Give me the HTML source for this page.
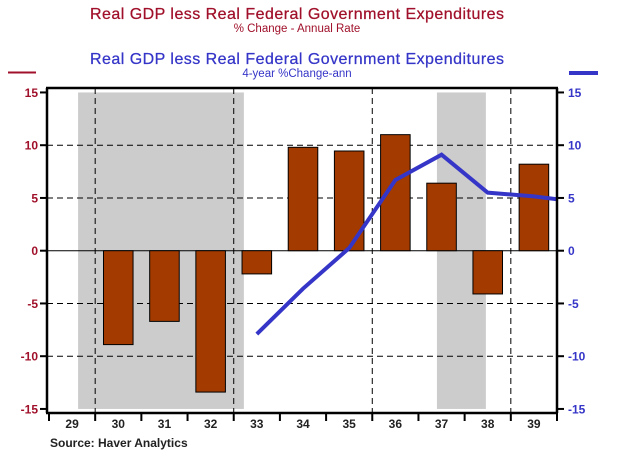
<!DOCTYPE html>
<html><head><meta charset="utf-8"><style>
body{margin:0;background:#fff;}
svg{display:block;font-family:"Liberation Sans",Arial,sans-serif;}
</style></head><body>
<svg id="c" width="634" height="472" viewBox="0 0 634 472">
<defs><clipPath id="pc"><rect x="47" y="88" width="510" height="325"/></clipPath></defs>
<text x="297" y="19" text-anchor="middle" font-size="16" fill="#a0102a" stroke="#a0102a" stroke-width="0.25" textLength="414">Real GDP less Real Federal Government Expenditures</text>
<text x="297" y="32" text-anchor="middle" font-size="11.5" fill="#a0102a">% Change - Annual Rate</text>
<text x="297" y="64" text-anchor="middle" font-size="16" fill="#3535c8" stroke="#3535c8" stroke-width="0.25" textLength="414">Real GDP less Real Federal Government Expenditures</text>
<text x="297" y="77" text-anchor="middle" font-size="11.5" fill="#3535c8">4-year %Change-ann</text>
<line x1="8" y1="72.5" x2="36" y2="72.5" stroke="#a0102a" stroke-width="2"/>
<line x1="569" y1="73" x2="598" y2="73" stroke="#3535c8" stroke-width="4"/>
<g id="shade"></g><g id="grid"></g><g id="bars"></g><g id="line" clip-path="url(#pc)"></g><g id="axes"></g>
<text x="50" y="447" font-size="12" font-weight="bold" fill="#222">Source: Haver Analytics</text>
</svg>
<script>
const categories=["29","30","31","32","33","34","35","36","37","38","39"];
const barValues=[null,-8.9,-6.7,-13.4,-2.2,9.8,9.45,11.0,6.4,-4.1,8.2];
const lineValues=[null,null,null,null,-7.9,-3.6,0.25,6.7,9.1,5.5,5.15,4.6];
const yTicks=[15,10,5,0,-5,-10,-15];
const shadeRanges=[[0.63,4.22],[8.4,9.46]];
const NS="http://www.w3.org/2000/svg";
const L=49,R=557,T=88,B=413;
const bw=(R-L)/categories.length;
const xPos=i=>L+bw*(i+0.5);
const xEdge=v=>L+bw*v;
const y=v=>250.7-v*10.55;
function mk(tag,attrs,parent){const e=document.createElementNS(NS,tag);for(const k in attrs)e.setAttribute(k,attrs[k]);document.getElementById(parent).appendChild(e);return e;}
shadeRanges.forEach(r=>{const e=mk('rect',{x:xEdge(r[0]),y:y(15),width:xEdge(r[1])-xEdge(r[0]),height:y(-15)-y(15),fill:'#cccccc'},'shade');

});
yTicks.forEach(t=>{if(t===15||t===-15)return;const e=mk('line',{x1:47,x2:R,y1:y(t),y2:y(t),stroke:'#000','stroke-width':1,'stroke-dasharray':t===0?'none':'6,4'},'grid');

});
[1,4,7,10].forEach(i=>{const e=mk('line',{x1:xEdge(i),x2:xEdge(i),y1:T,y2:B,stroke:'#000','stroke-width':1,'stroke-dasharray':'6,4'},'grid');

});
barValues.forEach((v,i)=>{if(v===null)return;const w=bw*0.64;const e=mk('rect',{x:xPos(i)-w/2,y:Math.min(y(v),y(0)),width:w,height:Math.abs(y(v)-y(0)),fill:'#a33b00',stroke:'#000','stroke-width':1},'bars');

});
const pts=[];lineValues.forEach((v,i)=>{if(v!==null)pts.push(xPos(i)+','+y(v));});
const pl=mk('polyline',{points:pts.join(' '),fill:'none',stroke:'#3535c8','stroke-width':4,'stroke-linejoin':'miter'},'line');


const ax=[['line',{x1:47,x2:47,y1:T,y2:B}],['line',{x1:R,x2:R,y1:T,y2:B}],['line',{x1:46,x2:R+1,y1:T,y2:T}],['line',{x1:46,x2:R+1,y1:B,y2:B}]];
ax.forEach(a=>{const e=mk(a[0],Object.assign({stroke:'#000','stroke-width':2.5},a[1]),'axes');

});
yTicks.forEach(t=>{
const l1=mk('line',{x1:40,x2:47,y1:y(t),y2:y(t),stroke:'#000','stroke-width':2},'axes');


const l2=mk('line',{x1:R,x2:R+7,y1:y(t),y2:y(t),stroke:'#000','stroke-width':2},'axes');


const a=mk('text',{x:38,y:y(t)+4.5,'text-anchor':'end','font-size':12,'font-weight':'bold',fill:'#a0102a'},'axes');a.textContent=t;


const b=mk('text',{x:568,y:y(t)+4.5,'font-size':12,'font-weight':'bold',fill:'#3535c8'},'axes');b.textContent=t;

});
for(let i=0;i<=categories.length;i++){const e=mk('line',{x1:xEdge(i),x2:xEdge(i),y1:B,y2:B+8,stroke:'#000','stroke-width':2},'axes');

}
categories.forEach((c,i)=>{const e=mk('text',{x:xPos(i),y:428,'text-anchor':'middle','font-size':12,'font-weight':'bold',fill:'#222'},'axes');e.textContent=c;

});
</script>
</body></html>
